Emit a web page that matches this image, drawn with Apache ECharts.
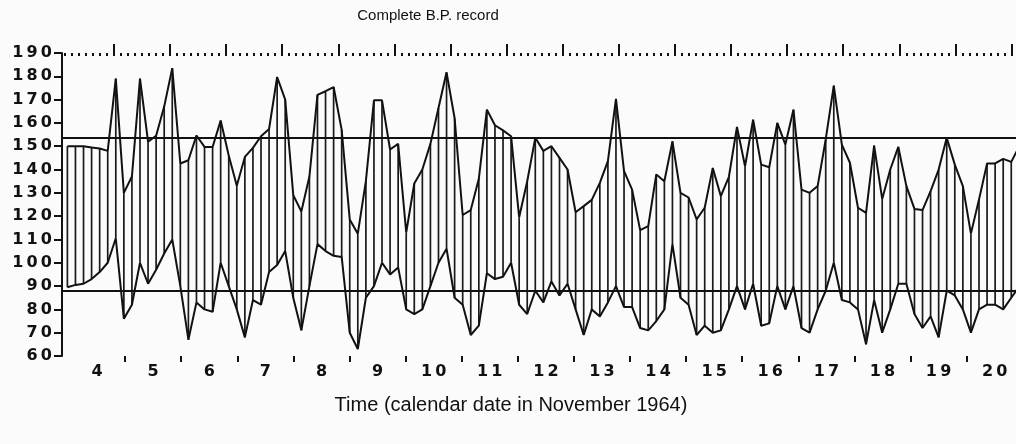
<!DOCTYPE html>
<html>
<head>
<meta charset="utf-8">
<script src="https://cdn.jsdelivr.net/npm/echarts@6/dist/echarts.min.js"></script>
<style>
html,body{margin:0;padding:0;background:#fbfbfb;}
#chart{width:1016px;height:444px;}
</style>
</head>
<body>
<div id="chart"></div>
<script>
// ---- data ----
const systolic = [
  150,150,150,149.5,149,148,179,130,137,179,
  152,154.5,167,183.5,142.6,144,154.6,149.7,149.7,161,
  146,133,145.4,149.3,154.3,157.4,179.7,170,129,122,
  137,172,173.6,175.4,157,118.6,112.5,135,169.7,169.7,
  148.6,151,113,134,140,151,166.4,181.7,162,120.5,
  122.6,136,165.7,159,156.8,154.3,119.5,135,153.6,148,
  150,145,140,121.7,124.3,127,134.3,143.6,170.3,139.3,
  131.4,114,115.7,137.9,135,152.1,130,128,118.6,123.6,
  140.7,128.6,136.9,158.3,141.4,161.4,142.1,141,160,150.7,
  165.7,131.4,130,132.9,152.9,176,150.7,142.9,123.6,121.4,
  150.3,127.4,140,149.7,132.9,123.1,122.6,130.7,140,153.6,
  142.1,132.9,112.5,127.1,142.6,142.6,144.6,143.3,150
];
const diastolic = [
  89.5,90.5,91,93,96,100,110.5,76,82,100,
  91,97,104,110,90,67,83,80,79,100,
  90,80,68,84,82,96,99,105,85,71,
  90,108,105,103,102.5,70,63,85,90,100,
  95,98,80,78,80,90,100,106,85,82,
  69,73,95.5,93,94,100,82,78,88,83,
  92,86,91,80,69,80,77,83,90,81,
  81,72,71,75,80,108,85,82,69,73,
  70,71,80,90,80,91,73,74,90,80,
  90,72,70,80,88,100,84,83,80,65,
  84,70,80,91,91,78,72,77,68,88,
  86,80,70,80,82,82,80,85,90
];
const days = [4,5,6,7,8,9,10,11,12,13,14,15,16,17,18,19,20];
const referenceLevels = [153.6, 88];
const titleText = 'Complete B.P. record';
const xAxisTitle = 'Time (calendar date in November 1964)';

// reading times (in days), evenly spaced readings
const FIRST_READING = 3.971;
const READING_STEP = 0.1438;
const times = systolic.map((_, i) => FIRST_READING + i * READING_STEP);

const X_MIN = 3.875, X_MAX = 20.88;
const dayTicks = days.slice(1);                 // day boundaries
const dayLabelPos = days.map(d => d + 0.5);     // day centres
const topMajor = days.map(d => d + 0.8).filter(v => v <= X_MAX);
const topMinor = [];
for (let v = 4.8 - 7 / 8; v <= X_MAX; v += 1 / 8) topMinor.push(+v.toFixed(4));

const spaced = v => String(v).split('').join('\u2009');
const labelFont = {fontFamily:'DejaVu Sans', fontWeight:'bold', fontSize:16, color:'#111'};

const chart = echarts.init(document.getElementById('chart'), null, {renderer:'canvas'});
chart.setOption({
  backgroundColor:'#fbfbfb',
  animation:false,
  grid:{left:62, right:0, top:53, bottom:88},
  graphic:[
    {type:'text', style:{text:titleText, x:428, y:16, textAlign:'center', textVerticalAlign:'middle',
      font:'15px "Liberation Sans", Arial, sans-serif', fill:'#111'}},
    {type:'text', style:{text:xAxisTitle, x:511, y:405, textAlign:'center', textVerticalAlign:'middle',
      font:'20px "Liberation Sans", Arial, sans-serif', fill:'#111'}}
  ],
  xAxis:[
    {type:'value', position:'bottom', min:X_MIN, max:X_MAX,
     axisLine:{show:false}, splitLine:{show:false},
     axisTick:{show:true, customValues:dayTicks, length:6, inside:false, lineStyle:{color:'#111', width:2}},
     axisLabel:Object.assign({customValues:dayLabelPos, margin:8, formatter:v => spaced(Math.floor(v))}, labelFont)},
    {type:'value', position:'top', min:X_MIN, max:X_MAX,
     axisLine:{show:false}, splitLine:{show:false}, axisLabel:{show:false},
     axisTick:{show:true, customValues:topMajor, length:9, inside:false, lineStyle:{color:'#111', width:2}}},
    {type:'value', position:'top', min:X_MIN, max:X_MAX,
     axisLine:{show:false}, splitLine:{show:false}, axisLabel:{show:false},
     axisTick:{show:true, customValues:topMinor, length:3, inside:true, lineStyle:{color:'#111', width:2}}}
  ],
  yAxis:{type:'value', min:60, max:190, interval:10,
    axisLine:{show:true, lineStyle:{color:'#111', width:2}},
    axisTick:{show:true, length:8, inside:false, lineStyle:{color:'#111', width:2}},
    splitLine:{show:false},
    axisLabel:Object.assign({margin:10, formatter:v => spaced(v)}, labelFont)},
  series:[
    {type:'custom', xAxisIndex:0, silent:true,
     data:times.map((t,i) => [t, systolic[i], diastolic[i]]),
     encode:{x:0, y:[1,2]},
     renderItem:(params, api) => {
       const t = api.value(0);
       const a = api.coord([t, api.value(1)]);
       const b = api.coord([t, api.value(2)]);
       return {type:'line', shape:{x1:a[0], y1:a[1], x2:b[0], y2:b[1]},
               style:{stroke:'#1a1a1a', lineWidth:1.7}};
     }},
    {type:'line', name:'Systolic', xAxisIndex:0, data:times.map((t,i)=>[t, systolic[i]]),
     symbol:'none', lineStyle:{color:'#111', width:2}, silent:true,
     markLine:{silent:true, symbol:'none', label:{show:false},
       lineStyle:{color:'#111', width:2, type:'solid'},
       data:referenceLevels.map(v => ({yAxis:v}))}},
    {type:'line', name:'Diastolic', xAxisIndex:0, data:times.map((t,i)=>[t, diastolic[i]]),
     symbol:'none', lineStyle:{color:'#111', width:2}, silent:true}
  ]
});
</script>
</body>
</html>
